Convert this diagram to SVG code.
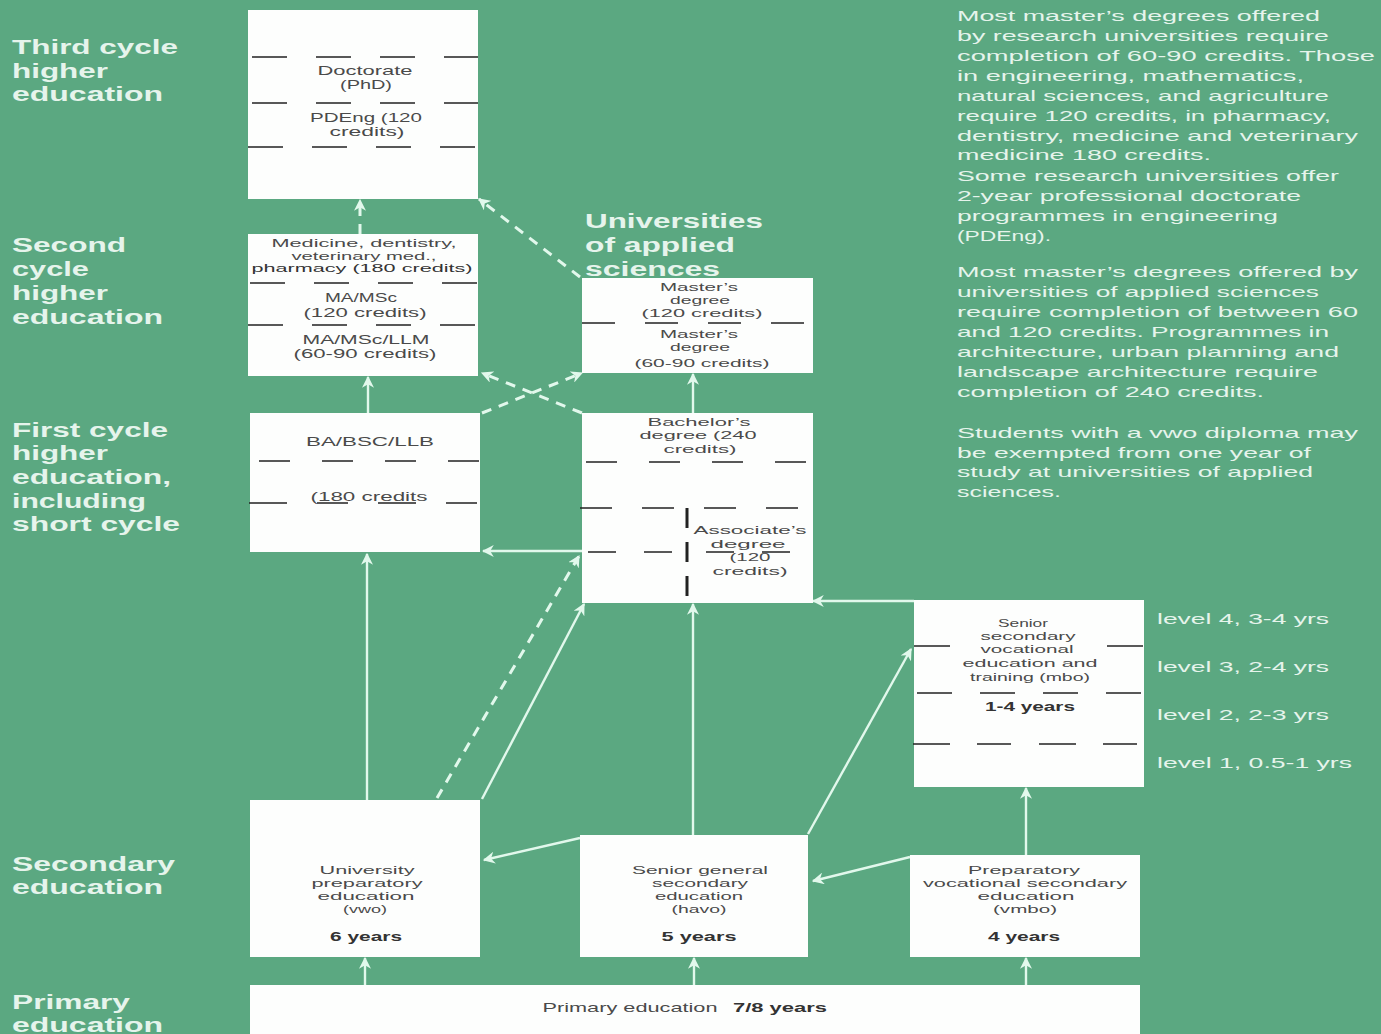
<svg xmlns="http://www.w3.org/2000/svg" width="1381" height="1034" viewBox="0 0 1381 1034">
<style>
.box{fill:#fdfefd}
.t{font-family:"Liberation Sans",Arial,sans-serif;font-size:13px;fill:#4a4a4a;text-anchor:middle}
.s{font-size:11.5px}
.tb{font-weight:bold;fill:#333}
.lab{font-family:"Liberation Sans",Arial,sans-serif;font-size:20px;font-weight:bold;fill:#e6f4ec}
.note{font-family:"Liberation Sans",Arial,sans-serif;font-size:15px;fill:#e6f4ec}
.dl{stroke:#222;stroke-width:1.6;fill:none}
.c{stroke:#e2f8ec;stroke-width:2.4;fill:none;marker-end:url(#ah)}
.cd{stroke:#e2f8ec;stroke-width:3;fill:none;stroke-dasharray:10 8;marker-end:url(#ah)}
</style>
<defs>
<marker id="ah" viewBox="0 0 10 10" refX="9" refY="5" markerWidth="12" markerHeight="12" markerUnits="userSpaceOnUse" orient="auto">
<path d="M0,0 L10,5 L0,10 L3,5 z" fill="#e2f8ec"/>
</marker>
</defs>
<rect width="1381" height="1034" fill="#5ba881"/>

<g id="labels">
<text class="lab" x="12" y="54" textLength="166" lengthAdjust="spacingAndGlyphs">Third cycle</text>
<text class="lab" x="12" y="78" textLength="96" lengthAdjust="spacingAndGlyphs">higher</text>
<text class="lab" x="12" y="101" textLength="151" lengthAdjust="spacingAndGlyphs">education</text>
<text class="lab" x="12" y="252" textLength="114" lengthAdjust="spacingAndGlyphs">Second</text>
<text class="lab" x="12" y="276" textLength="77" lengthAdjust="spacingAndGlyphs">cycle</text>
<text class="lab" x="12" y="300" textLength="96" lengthAdjust="spacingAndGlyphs">higher</text>
<text class="lab" x="12" y="324" textLength="151" lengthAdjust="spacingAndGlyphs">education</text>
<text class="lab" x="12" y="437" textLength="156" lengthAdjust="spacingAndGlyphs">First cycle</text>
<text class="lab" x="12" y="460" textLength="96" lengthAdjust="spacingAndGlyphs">higher</text>
<text class="lab" x="12" y="484" textLength="159" lengthAdjust="spacingAndGlyphs">education,</text>
<text class="lab" x="12" y="508" textLength="134" lengthAdjust="spacingAndGlyphs">including</text>
<text class="lab" x="12" y="531" textLength="168" lengthAdjust="spacingAndGlyphs">short cycle</text>
<text class="lab" x="12" y="871" textLength="163" lengthAdjust="spacingAndGlyphs">Secondary</text>
<text class="lab" x="12" y="894" textLength="151" lengthAdjust="spacingAndGlyphs">education</text>
<text class="lab" x="12" y="1009" textLength="118" lengthAdjust="spacingAndGlyphs">Primary</text>
<text class="lab" x="12" y="1032" textLength="151" lengthAdjust="spacingAndGlyphs">education</text>
<text class="lab" x="585" y="228" textLength="178" lengthAdjust="spacingAndGlyphs">Universities</text>
<text class="lab" x="585" y="252" textLength="150" lengthAdjust="spacingAndGlyphs">of applied</text>
<text class="lab" x="585" y="276" textLength="135" lengthAdjust="spacingAndGlyphs">sciences</text>
</g>

<g id="notes">
<text class="note" x="957" y="21" textLength="363" lengthAdjust="spacingAndGlyphs">Most master’s degrees offered</text>
<text class="note" x="957" y="41" textLength="372" lengthAdjust="spacingAndGlyphs">by research universities require</text>
<text class="note" x="957" y="61" textLength="418" lengthAdjust="spacingAndGlyphs">completion of 60-90 credits. Those</text>
<text class="note" x="957" y="81" textLength="347" lengthAdjust="spacingAndGlyphs">in engineering, mathematics,</text>
<text class="note" x="957" y="101" textLength="372" lengthAdjust="spacingAndGlyphs">natural sciences, and agriculture</text>
<text class="note" x="957" y="121" textLength="374" lengthAdjust="spacingAndGlyphs">require 120 credits, in pharmacy,</text>
<text class="note" x="957" y="141" textLength="401" lengthAdjust="spacingAndGlyphs">dentistry, medicine and veterinary</text>
<text class="note" x="957" y="160" textLength="254" lengthAdjust="spacingAndGlyphs">medicine 180 credits.</text>
<text class="note" x="957" y="181" textLength="382" lengthAdjust="spacingAndGlyphs">Some research universities offer</text>
<text class="note" x="957" y="201" textLength="344" lengthAdjust="spacingAndGlyphs">2-year professional doctorate</text>
<text class="note" x="957" y="221" textLength="321" lengthAdjust="spacingAndGlyphs">programmes in engineering</text>
<text class="note" x="957" y="241" textLength="94" lengthAdjust="spacingAndGlyphs">(PDEng).</text>
<text class="note" x="957" y="277" textLength="401" lengthAdjust="spacingAndGlyphs">Most master’s degrees offered by</text>
<text class="note" x="957" y="297" textLength="362" lengthAdjust="spacingAndGlyphs">universities of applied sciences</text>
<text class="note" x="957" y="317" textLength="401" lengthAdjust="spacingAndGlyphs">require completion of between 60</text>
<text class="note" x="957" y="337" textLength="372" lengthAdjust="spacingAndGlyphs">and 120 credits. Programmes in</text>
<text class="note" x="957" y="357" textLength="382" lengthAdjust="spacingAndGlyphs">architecture, urban planning and</text>
<text class="note" x="957" y="377" textLength="361" lengthAdjust="spacingAndGlyphs">landscape architecture require</text>
<text class="note" x="957" y="397" textLength="307" lengthAdjust="spacingAndGlyphs">completion of 240 credits.</text>
<text class="note" x="957" y="438" textLength="401" lengthAdjust="spacingAndGlyphs">Students with a vwo diploma may</text>
<text class="note" x="957" y="458" textLength="354" lengthAdjust="spacingAndGlyphs">be exempted from one year of</text>
<text class="note" x="957" y="477" textLength="356" lengthAdjust="spacingAndGlyphs">study at universities of applied</text>
<text class="note" x="957" y="497" textLength="104" lengthAdjust="spacingAndGlyphs">sciences.</text>
<text class="note" x="1157" y="624" textLength="172" lengthAdjust="spacingAndGlyphs">level 4, 3-4 yrs</text>
<text class="note" x="1157" y="672" textLength="172" lengthAdjust="spacingAndGlyphs">level 3, 2-4 yrs</text>
<text class="note" x="1157" y="720" textLength="172" lengthAdjust="spacingAndGlyphs">level 2, 2-3 yrs</text>
<text class="note" x="1157" y="768" textLength="195" lengthAdjust="spacingAndGlyphs">level 1, 0.5-1 yrs</text>
</g>

<g id="connectors">
<line class="cd" x1="360" y1="234" x2="360" y2="200"/>
<line class="cd" x1="580" y1="277" x2="479" y2="199"/>
<line class="cd" x1="482" y1="413" x2="582" y2="373"/>
<line class="cd" x1="582" y1="413" x2="482" y2="373"/>
<line class="c" x1="368" y1="413" x2="368" y2="377"/>
<line class="c" x1="693" y1="413" x2="693" y2="374"/>
<line class="c" x1="582" y1="551" x2="483" y2="551"/>
<line class="c" x1="914" y1="601" x2="813" y2="601"/>
<line class="c" x1="367" y1="800" x2="367" y2="554"/>
<line class="cd" x1="437" y1="798" x2="579" y2="556"/>
<line class="c" x1="482" y1="799" x2="584" y2="604"/>
<line class="c" x1="693" y1="835" x2="693" y2="604"/>
<line class="c" x1="808" y1="834" x2="911" y2="649"/>
<line class="c" x1="1026" y1="855" x2="1026" y2="788"/>
<line class="c" x1="580" y1="838" x2="484" y2="860"/>
<line class="c" x1="910" y1="857" x2="813" y2="881"/>
<line class="c" x1="365" y1="985" x2="365" y2="958"/>
<line class="c" x1="694" y1="985" x2="694" y2="958"/>
<line class="c" x1="1026" y1="985" x2="1026" y2="958"/>
</g>

<g id="doctorate">
<rect class="box" x="248" y="10" width="230" height="189"/>
<line class="dl" x1="252" y1="57" x2="478" y2="57" stroke-dasharray="35 29"/>
<line class="dl" x1="252" y1="103" x2="478" y2="103" stroke-dasharray="35 29"/>
<line class="dl" x1="248" y1="147" x2="476" y2="147" stroke-dasharray="35 29"/>
<text class="t" x="365" y="75" textLength="95" lengthAdjust="spacingAndGlyphs">Doctorate</text>
<text class="t" x="366" y="89" textLength="52" lengthAdjust="spacingAndGlyphs">(PhD)</text>
<text class="t" x="366" y="122" textLength="112" lengthAdjust="spacingAndGlyphs">PDEng (120</text>
<text class="t" x="367" y="136" textLength="75" lengthAdjust="spacingAndGlyphs">credits)</text>
</g>

<g id="second-cycle">
<rect class="box" x="248" y="234" width="230" height="142"/>
<line class="dl" x1="250" y1="283" x2="478" y2="283" stroke-dasharray="35 29"/>
<line class="dl" x1="248" y1="325" x2="476" y2="325" stroke-dasharray="35 29"/>
<text class="t s" x="364" y="247" textLength="185" lengthAdjust="spacingAndGlyphs">Medicine, dentistry,</text>
<text class="t s" x="364" y="259.5" textLength="145" lengthAdjust="spacingAndGlyphs">veterinary med.,</text>
<text class="t s" x="362" y="272" textLength="221" lengthAdjust="spacingAndGlyphs" style="fill:#333">pharmacy (180 credits)</text>
<text class="t" x="361" y="302" textLength="72" lengthAdjust="spacingAndGlyphs">MA/MSc</text>
<text class="t" x="365" y="317" textLength="123" lengthAdjust="spacingAndGlyphs">(120 credits)</text>
<text class="t" x="366" y="344" textLength="127" lengthAdjust="spacingAndGlyphs">MA/MSc/LLM</text>
<text class="t" x="365" y="358" textLength="143" lengthAdjust="spacingAndGlyphs">(60-90 credits)</text>
</g>

<g id="uas-master">
<rect class="box" x="582" y="278" width="231" height="95"/>
<line class="dl" x1="582" y1="323" x2="812" y2="323" stroke-dasharray="33 30"/>
<text class="t s" x="699" y="291" textLength="78" lengthAdjust="spacingAndGlyphs">Master’s</text>
<text class="t s" x="700" y="303.5" textLength="60" lengthAdjust="spacingAndGlyphs">degree</text>
<text class="t s" x="702" y="317" textLength="121" lengthAdjust="spacingAndGlyphs">(120 credits)</text>
<text class="t s" x="699" y="338" textLength="78" lengthAdjust="spacingAndGlyphs">Master’s</text>
<text class="t s" x="700" y="351" textLength="60" lengthAdjust="spacingAndGlyphs">degree</text>
<text class="t s" x="702" y="367" textLength="135" lengthAdjust="spacingAndGlyphs">(60-90 credits)</text>
</g>

<g id="ba">
<rect class="box" x="250" y="413" width="230" height="139"/>
<line class="dl" x1="259" y1="461" x2="480" y2="461" stroke-dasharray="31 32"/>
<line class="dl" x1="249" y1="503" x2="478" y2="503" stroke-dasharray="38 30 31 30"/>
<text class="t" x="370" y="446" textLength="128" lengthAdjust="spacingAndGlyphs">BA/BSC/LLB</text>
<text class="t" x="369" y="501" textLength="117" lengthAdjust="spacingAndGlyphs">(180 credits</text>
</g>

<g id="bachelor-associate">
<rect class="box" x="582" y="413" width="231" height="190"/>
<line class="dl" x1="586" y1="462" x2="813" y2="462" stroke-dasharray="31 32"/>
<line class="dl" x1="580" y1="508" x2="806" y2="508" stroke-dasharray="32 30"/>
<line class="dl" x1="588" y1="552" x2="806" y2="552" stroke-dasharray="28 28 28 34"/>
<line x1="687" y1="508" x2="687" y2="603" stroke="#222" stroke-width="3" stroke-dasharray="20 14"/>
<text class="t s" x="699" y="426" textLength="103" lengthAdjust="spacingAndGlyphs">Bachelor’s</text>
<text class="t s" x="698" y="439" textLength="117" lengthAdjust="spacingAndGlyphs">degree (240</text>
<text class="t s" x="700" y="453" textLength="73" lengthAdjust="spacingAndGlyphs">credits)</text>
<text class="t s" x="750" y="534" textLength="113" lengthAdjust="spacingAndGlyphs">Associate’s</text>
<text class="t s" x="748" y="548" textLength="75" lengthAdjust="spacingAndGlyphs">degree</text>
<text class="t s" x="750" y="561" textLength="41" lengthAdjust="spacingAndGlyphs">(120</text>
<text class="t s" x="750" y="575" textLength="75" lengthAdjust="spacingAndGlyphs">credits)</text>
</g>

<g id="mbo">
<rect class="box" x="914" y="600" width="230" height="187"/>
<line class="dl" x1="914" y1="646" x2="950" y2="646"/>
<line class="dl" x1="1107" y1="646" x2="1143" y2="646"/>
<line class="dl" x1="917" y1="693" x2="1145" y2="693" stroke-dasharray="35 28"/>
<line class="dl" x1="913" y1="744" x2="1143" y2="744" stroke-dasharray="37 27 34 28"/>
<text class="t s" x="1023" y="627" textLength="50" lengthAdjust="spacingAndGlyphs">Senior</text>
<text class="t s" x="1028" y="640" textLength="95" lengthAdjust="spacingAndGlyphs">secondary</text>
<text class="t s" x="1027" y="653" textLength="93" lengthAdjust="spacingAndGlyphs">vocational</text>
<text class="t s" x="1030" y="667" textLength="135" lengthAdjust="spacingAndGlyphs">education and</text>
<text class="t s" x="1030" y="681" textLength="120" lengthAdjust="spacingAndGlyphs">training (mbo)</text>
<text class="t tb" x="1030" y="711" textLength="90" lengthAdjust="spacingAndGlyphs">1-4 years</text>
</g>

<g id="vwo">
<rect class="box" x="250" y="800" width="230" height="157"/>
<text class="t s" x="367" y="874" textLength="95" lengthAdjust="spacingAndGlyphs">University</text>
<text class="t s" x="367" y="887" textLength="111" lengthAdjust="spacingAndGlyphs">preparatory</text>
<text class="t s" x="366" y="900" textLength="97" lengthAdjust="spacingAndGlyphs">education</text>
<text class="t s" x="365" y="913" textLength="44" lengthAdjust="spacingAndGlyphs">(vwo)</text>
<text class="t tb" x="366" y="941" textLength="72" lengthAdjust="spacingAndGlyphs">6 years</text>
</g>

<g id="havo">
<rect class="box" x="580" y="835" width="228" height="122"/>
<text class="t s" x="700" y="874" textLength="136" lengthAdjust="spacingAndGlyphs">Senior general</text>
<text class="t s" x="700" y="887" textLength="96" lengthAdjust="spacingAndGlyphs">secondary</text>
<text class="t s" x="699" y="900" textLength="88" lengthAdjust="spacingAndGlyphs">education</text>
<text class="t s" x="699" y="913" textLength="55" lengthAdjust="spacingAndGlyphs">(havo)</text>
<text class="t tb" x="699" y="941" textLength="75" lengthAdjust="spacingAndGlyphs">5 years</text>
</g>

<g id="vmbo">
<rect class="box" x="910" y="855" width="230" height="102"/>
<text class="t s" x="1024" y="874" textLength="112" lengthAdjust="spacingAndGlyphs">Preparatory</text>
<text class="t s" x="1025" y="887" textLength="204" lengthAdjust="spacingAndGlyphs">vocational secondary</text>
<text class="t s" x="1026" y="900" textLength="97" lengthAdjust="spacingAndGlyphs">education</text>
<text class="t s" x="1025" y="913" textLength="64" lengthAdjust="spacingAndGlyphs">(vmbo)</text>
<text class="t tb" x="1024" y="941" textLength="72" lengthAdjust="spacingAndGlyphs">4 years</text>
</g>

<g id="primary">
<rect class="box" x="250" y="985" width="890" height="60"/>
<text class="t" x="630" y="1012" textLength="175" lengthAdjust="spacingAndGlyphs">Primary education</text>
<text class="t tb" x="780" y="1012" textLength="94" lengthAdjust="spacingAndGlyphs">7/8 years</text>
</g>
</svg>
